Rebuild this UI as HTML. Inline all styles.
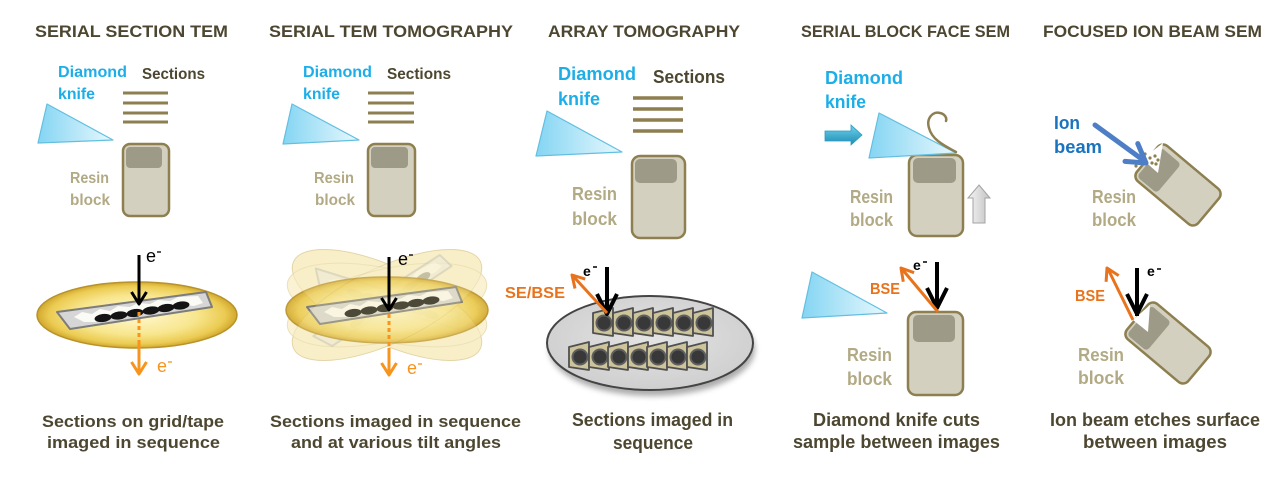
<!DOCTYPE html>
<html><head><meta charset="utf-8"><style>
html,body{margin:0;padding:0;background:#fff;}
svg{display:block;}
text{font-family:"Liberation Sans",Arial,sans-serif;font-weight:bold;}
.ti{font-size:17px;fill:#4d4731;}
.cap{font-size:17px;fill:#4d4731;}
.dk{font-size:16px;fill:#1daee8;}
.sec{font-size:16px;fill:#4d4731;}
.rb{font-size:16px;fill:#b2aa85;}
.or{font-size:16px;fill:#e8731c;}
</style></head><body>
<svg width="1280" height="482" viewBox="0 0 1280 482" xmlns="http://www.w3.org/2000/svg">
<defs>
<linearGradient id="kn" x1="0" y1="0" x2="1" y2="0"><stop offset="0" stop-color="#84d5f3"/><stop offset="1" stop-color="#e8f8fd"/></linearGradient>
<radialGradient id="gold" cx="50%" cy="50%" r="50%"><stop offset="0" stop-color="#fff8cf"/><stop offset="0.6" stop-color="#f8e68e"/><stop offset="0.88" stop-color="#ebcb52"/><stop offset="1" stop-color="#d2a82e"/></radialGradient>
<radialGradient id="grey" cx="50%" cy="45%" r="55%"><stop offset="0" stop-color="#e4e4e4"/><stop offset="1" stop-color="#cfcfcf"/></radialGradient>
<linearGradient id="teal" x1="0" y1="0" x2="0" y2="1"><stop offset="0" stop-color="#6fd2ee"/><stop offset="1" stop-color="#1d8cb2"/></linearGradient>
<linearGradient id="upg" x1="0" y1="0" x2="1" y2="0"><stop offset="0" stop-color="#f4f4f4"/><stop offset="1" stop-color="#c4c4c4"/></linearGradient>
<filter id="bl" x="-20%" y="-20%" width="140%" height="140%"><feGaussianBlur stdDeviation="3"/></filter>
<g id="slide">
<path d="M57,312 L206,292 L212,307 L70,329 Z" fill="#d6d6d6" stroke="#7c7c7c" stroke-width="2" stroke-linejoin="round"/>
<path d="M74,317 L82,312 L92,314 L100,309 L110,311 L118,306 L130,307 L138,303 L150,304 L158,300 L170,301 L178,297 L198,296 L203,303 L194,306 L184,305 L176,309 L164,308 L156,312 L144,311 L136,315 L124,314 L116,318 L104,317 L96,322 L84,322 Z" fill="#fbfbf5"/>
<g fill="#141414">
<ellipse cx="103" cy="318" rx="8.5" ry="4" transform="rotate(-8 103 318)"/>
<ellipse cx="119" cy="315.5" rx="8.5" ry="4" transform="rotate(-8 119 315.5)"/>
<ellipse cx="135" cy="313" rx="8.5" ry="4" transform="rotate(-8 135 313)"/>
<ellipse cx="151" cy="310.5" rx="8.5" ry="4" transform="rotate(-8 151 310.5)"/>
<ellipse cx="166" cy="308" rx="8.5" ry="4" transform="rotate(-8 166 308)"/>
<ellipse cx="181" cy="305.5" rx="8.5" ry="4" transform="rotate(-8 181 305.5)"/>
</g>
</g>
<g id="tz">
<polygon points="-11,-10 9,-15 9,13 -11,10" fill="#cdc49c" stroke="#505050" stroke-width="1.8" stroke-linejoin="round"/>
<circle cx="0" cy="0" r="7.5" fill="#383838" stroke="#5e5e5e" stroke-width="2"/>
</g>
</defs>

<!-- ===== Titles ===== -->
<text class="ti" x="35" y="37" textLength="193" lengthAdjust="spacingAndGlyphs">SERIAL SECTION TEM</text>
<text class="ti" x="269" y="37" textLength="244" lengthAdjust="spacingAndGlyphs">SERIAL TEM TOMOGRAPHY</text>
<text class="ti" x="548" y="37" textLength="192" lengthAdjust="spacingAndGlyphs">ARRAY TOMOGRAPHY</text>
<text class="ti" x="801" y="37" textLength="209" lengthAdjust="spacingAndGlyphs">SERIAL BLOCK FACE SEM</text>
<text class="ti" x="1043" y="37" textLength="219" lengthAdjust="spacingAndGlyphs">FOCUSED ION BEAM SEM</text>

<!-- ===== Panel 1 top ===== -->
<text class="dk" x="58" y="77" textLength="69" lengthAdjust="spacingAndGlyphs">Diamond</text>
<text class="dk" x="58" y="99" textLength="37" lengthAdjust="spacingAndGlyphs">knife</text>
<text class="sec" x="142" y="79" textLength="63" lengthAdjust="spacingAndGlyphs">Sections</text>
<g stroke="#8d7f4f" stroke-width="3"><line x1="123" y1="93" x2="168" y2="93"/><line x1="123" y1="103" x2="168" y2="103"/><line x1="123" y1="113" x2="168" y2="113"/><line x1="123" y1="122" x2="168" y2="122"/></g>
<polygon points="47,104 38,143 113,140" fill="url(#kn)" stroke="#63bfe0" stroke-width="1.2" stroke-linejoin="round"/>
<rect x="123" y="144" width="46" height="72" rx="7" fill="#d3d0bf" stroke="#8d7f4f" stroke-width="2.5"/>
<rect x="126" y="147" width="36" height="21" rx="4" fill="#9d9a87"/>
<text class="rb" x="70" y="183" textLength="39" lengthAdjust="spacingAndGlyphs">Resin</text>
<text class="rb" x="70" y="205" textLength="40" lengthAdjust="spacingAndGlyphs">block</text>

<!-- Panel 1 bottom -->
<ellipse cx="137" cy="315" rx="100" ry="33" fill="url(#gold)" stroke="#b8922a" stroke-width="1.5"/>
<use href="#slide"/>
<line x1="139" y1="255" x2="139" y2="303" stroke="#000" stroke-width="3"/>
<polyline points="131.5,292 139,304 146.5,292" fill="none" stroke="#000" stroke-width="3" stroke-linejoin="round"/>
<text x="146" y="262" style="font-weight:normal;font-size:18px;fill:#000">e</text>
<line x1="157" y1="252" x2="161" y2="252" stroke="#000" stroke-width="1.3"/>
<line x1="139" y1="312" x2="139" y2="343" stroke="#f7941d" stroke-width="3" stroke-dasharray="4 3"/>
<line x1="139" y1="343" x2="139" y2="373" stroke="#f7941d" stroke-width="3"/>
<polyline points="131.5,362 139,374 146.5,362" fill="none" stroke="#f7941d" stroke-width="3" stroke-linejoin="round"/>
<text x="157" y="372" style="font-weight:normal;font-size:18px;fill:#f7941d">e</text>
<line x1="168" y1="362" x2="172" y2="362" stroke="#f7941d" stroke-width="1.3"/>
<text class="cap" x="42" y="427" textLength="182" lengthAdjust="spacingAndGlyphs">Sections on grid/tape</text>
<text class="cap" x="47" y="448" textLength="173" lengthAdjust="spacingAndGlyphs">imaged in sequence</text>

<!-- ===== Panel 2 top ===== -->
<text class="dk" x="303" y="77" textLength="69" lengthAdjust="spacingAndGlyphs">Diamond</text>
<text class="dk" x="303" y="99" textLength="37" lengthAdjust="spacingAndGlyphs">knife</text>
<text class="sec" x="387" y="79" textLength="64" lengthAdjust="spacingAndGlyphs">Sections</text>
<g stroke="#8d7f4f" stroke-width="3"><line x1="368" y1="93" x2="414" y2="93"/><line x1="368" y1="103" x2="414" y2="103"/><line x1="368" y1="113" x2="414" y2="113"/><line x1="368" y1="122" x2="414" y2="122"/></g>
<polygon points="292,104 283,144 359,140" fill="url(#kn)" stroke="#63bfe0" stroke-width="1.2" stroke-linejoin="round"/>
<rect x="368" y="144" width="47" height="72" rx="7" fill="#d3d0bf" stroke="#8d7f4f" stroke-width="2.5"/>
<rect x="371" y="147" width="37" height="21" rx="4" fill="#9d9a87"/>
<text class="rb" x="314" y="183" textLength="40" lengthAdjust="spacingAndGlyphs">Resin</text>
<text class="rb" x="315" y="205" textLength="40" lengthAdjust="spacingAndGlyphs">block</text>

<!-- Panel 2 bottom -->
<g opacity="0.5">
<ellipse cx="387" cy="305" rx="103" ry="38" transform="rotate(25 387 305)" fill="#f6e7a8" stroke="#d8c27c" stroke-width="1"/>
<ellipse cx="387" cy="305" rx="103" ry="38" transform="rotate(-25 387 305)" fill="#f6e7a8" stroke="#d8c27c" stroke-width="1"/>
<ellipse cx="387" cy="305" rx="102" ry="36" transform="rotate(13 387 305)" fill="#f6e7a8" stroke="#d8c27c" stroke-width="1"/>
<ellipse cx="387" cy="305" rx="102" ry="36" transform="rotate(-13 387 305)" fill="#f6e7a8" stroke="#d8c27c" stroke-width="1"/>
<g transform="rotate(25 387 305) translate(250,-10)" opacity="0.6"><use href="#slide"/></g>
<g transform="rotate(-25 387 305) translate(250,-10)" opacity="0.6"><use href="#slide"/></g>
</g>
<ellipse cx="387" cy="310" rx="101" ry="33" fill="url(#gold)" stroke="#b8922a" stroke-width="1.5" opacity="0.92"/>
<g transform="translate(250,-5)"><use href="#slide"/></g>
<g opacity="0.25">
<ellipse cx="387" cy="305" rx="103" ry="38" transform="rotate(25 387 305)" fill="#f6e7a8" stroke="#d0b870"/>
<ellipse cx="387" cy="305" rx="103" ry="38" transform="rotate(-25 387 305)" fill="#f6e7a8" stroke="#d0b870"/>
</g>
<line x1="389" y1="257" x2="389" y2="309" stroke="#000" stroke-width="3"/>
<polyline points="381.5,298 389,310 396.5,298" fill="none" stroke="#000" stroke-width="3" stroke-linejoin="round"/>
<text x="398" y="265" style="font-weight:normal;font-size:18px;fill:#000">e</text>
<line x1="409" y1="255" x2="413" y2="255" stroke="#000" stroke-width="1.3"/>
<line x1="389" y1="314" x2="389" y2="348" stroke="#f7941d" stroke-width="3" stroke-dasharray="4 3"/>
<line x1="389" y1="348" x2="389" y2="374" stroke="#f7941d" stroke-width="3"/>
<polyline points="381.5,363 389,375 396.5,363" fill="none" stroke="#f7941d" stroke-width="3" stroke-linejoin="round"/>
<text x="407" y="374" style="font-weight:normal;font-size:18px;fill:#f7941d">e</text>
<line x1="418" y1="364" x2="422" y2="364" stroke="#f7941d" stroke-width="1.3"/>
<text class="cap" x="270" y="427" textLength="251" lengthAdjust="spacingAndGlyphs">Sections imaged in sequence</text>
<text class="cap" x="291" y="448" textLength="210" lengthAdjust="spacingAndGlyphs">and at various tilt angles</text>

<!-- ===== Panel 3 top ===== -->
<text class="dk" x="558" y="80" style="font-size:18px" textLength="78" lengthAdjust="spacingAndGlyphs">Diamond</text>
<text class="dk" x="558" y="105" style="font-size:18px" textLength="42" lengthAdjust="spacingAndGlyphs">knife</text>
<text class="sec" x="653" y="83" style="font-size:18px" textLength="72" lengthAdjust="spacingAndGlyphs">Sections</text>
<g stroke="#8d7f4f" stroke-width="3.5"><line x1="633" y1="98" x2="683" y2="98"/><line x1="633" y1="109" x2="683" y2="109"/><line x1="633" y1="120" x2="683" y2="120"/><line x1="633" y1="131" x2="683" y2="131"/></g>
<polygon points="547,111 536,156 622,152" fill="url(#kn)" stroke="#63bfe0" stroke-width="1.2" stroke-linejoin="round"/>
<rect x="632" y="156" width="53" height="82" rx="8" fill="#d3d0bf" stroke="#8d7f4f" stroke-width="2.5"/>
<rect x="635" y="159" width="42" height="24" rx="5" fill="#9d9a87"/>
<text class="rb" x="572" y="200" style="font-size:18px" textLength="45" lengthAdjust="spacingAndGlyphs">Resin</text>
<text class="rb" x="572" y="225" style="font-size:18px" textLength="45" lengthAdjust="spacingAndGlyphs">block</text>

<!-- Panel 3 bottom -->
<ellipse cx="652" cy="349" rx="103" ry="47" fill="#666" opacity="0.55" filter="url(#bl)"/>
<ellipse cx="650" cy="343" rx="103" ry="47" fill="url(#grey)" stroke="#444" stroke-width="2"/>
<use href="#tz" x="604" y="323"/><use href="#tz" x="624" y="323"/><use href="#tz" x="644" y="323"/><use href="#tz" x="664" y="323"/><use href="#tz" x="684" y="323"/><use href="#tz" x="704" y="323"/>
<use href="#tz" x="580" y="357"/><use href="#tz" x="600" y="357"/><use href="#tz" x="619" y="357"/><use href="#tz" x="639" y="357"/><use href="#tz" x="658" y="357"/><use href="#tz" x="678" y="357"/><use href="#tz" x="698" y="357"/>
<line x1="607" y1="267" x2="607" y2="313" stroke="#000" stroke-width="4"/>
<polyline points="597,294 607,314 617,294" fill="none" stroke="#000" stroke-width="4" stroke-linejoin="round"/>
<line x1="607" y1="313" x2="573" y2="276" stroke="#e8731c" stroke-width="3"/>
<polyline points="575,288.5 572,275 585.2,279.1" fill="none" stroke="#e8731c" stroke-width="3" stroke-linejoin="round"/>
<text x="583" y="276" style="font-size:14px;fill:#000">e</text>
<line x1="593" y1="267" x2="597" y2="267" stroke="#000" stroke-width="1.5"/>
<text class="or" x="505" y="298" textLength="60" lengthAdjust="spacingAndGlyphs">SE/BSE</text>
<text class="cap" x="572" y="426" style="font-size:18px" textLength="161" lengthAdjust="spacingAndGlyphs">Sections imaged in</text>
<text class="cap" x="613" y="449" style="font-size:18px" textLength="80" lengthAdjust="spacingAndGlyphs">sequence</text>

<!-- ===== Panel 4 top ===== -->
<text class="dk" x="825" y="84" style="font-size:18px" textLength="78" lengthAdjust="spacingAndGlyphs">Diamond</text>
<text class="dk" x="825" y="108" style="font-size:18px" textLength="41" lengthAdjust="spacingAndGlyphs">knife</text>
<path d="M825,131 L851,131 L851,125 L862,135 L851,145 L851,141 L825,141 Z" fill="url(#teal)" stroke="#2a9cc0" stroke-width="0.8"/>
<rect x="909" y="155" width="54" height="81" rx="8" fill="#d3d0bf" stroke="#8d7f4f" stroke-width="2.5"/>
<rect x="913" y="158" width="43" height="25" rx="5" fill="#9d9a87"/>
<polygon points="879,113 869,158 956,153" fill="url(#kn)" stroke="#63bfe0" stroke-width="1.2" stroke-linejoin="round"/>
<path d="M956,152 C945,146 932,140 929,128 C926,118 933,111 940,113 C945,114 947,118 946,121" fill="none" stroke="#8d7f4f" stroke-width="2.5" stroke-linecap="round"/>
<path d="M979,185 L990,198 L985,198 L985,223 L973,223 L973,198 L968,198 Z" fill="url(#upg)" stroke="#a3a3a3" stroke-width="1"/>
<text class="rb" x="850" y="203" style="font-size:18px" textLength="43" lengthAdjust="spacingAndGlyphs">Resin</text>
<text class="rb" x="850" y="226" style="font-size:18px" textLength="43" lengthAdjust="spacingAndGlyphs">block</text>

<!-- Panel 4 bottom -->
<polygon points="812,272 802,318 887,313" fill="url(#kn)" stroke="#63bfe0" stroke-width="1.2" stroke-linejoin="round"/>
<rect x="908" y="312" width="55" height="83" rx="8" fill="#d3d0bf" stroke="#8d7f4f" stroke-width="2.5"/>
<rect x="913" y="315" width="42" height="27" rx="5" fill="#9d9a87"/>
<line x1="937" y1="262" x2="937" y2="307" stroke="#000" stroke-width="4"/>
<polyline points="927,288 937,308 947,288" fill="none" stroke="#000" stroke-width="4" stroke-linejoin="round"/>
<line x1="938" y1="312" x2="902" y2="269" stroke="#e8731c" stroke-width="3"/>
<polyline points="903.3,281.7 901,268 914.1,272.7" fill="none" stroke="#e8731c" stroke-width="3" stroke-linejoin="round"/>
<text x="913" y="270" style="font-size:14px;fill:#000">e</text>
<line x1="923" y1="262" x2="927" y2="262" stroke="#000" stroke-width="1.5"/>
<text class="or" x="870" y="294" textLength="30" lengthAdjust="spacingAndGlyphs">BSE</text>
<text class="rb" x="847" y="361" style="font-size:18px" textLength="45" lengthAdjust="spacingAndGlyphs">Resin</text>
<text class="rb" x="847" y="385" style="font-size:18px" textLength="45" lengthAdjust="spacingAndGlyphs">block</text>
<text class="cap" x="813" y="426" style="font-size:18px" textLength="167" lengthAdjust="spacingAndGlyphs">Diamond knife cuts</text>
<text class="cap" x="793" y="448" style="font-size:18px" textLength="207" lengthAdjust="spacingAndGlyphs">sample between images</text>

<!-- ===== Panel 5 top ===== -->
<text x="1054" y="129" style="font-size:18px;fill:#1a73bf" textLength="26" lengthAdjust="spacingAndGlyphs">Ion</text>
<text x="1054" y="153" style="font-size:18px;fill:#1a73bf" textLength="48" lengthAdjust="spacingAndGlyphs">beam</text>
<g transform="translate(1178,185) rotate(-50)">
<rect x="-23" y="-40" width="46" height="80" rx="7" fill="#d3d0bf" stroke="#8d7f4f" stroke-width="2.5"/>
<rect x="-20" y="-37" width="38" height="26" rx="4" fill="#9d9a87"/>
</g>
<polygon points="1142,159 1163,143 1158,173" fill="#fff"/>
<g fill="#8d7f4f"><circle cx="1145" cy="154" r="1.6"/><circle cx="1150" cy="158" r="1.6"/><circle cx="1155" cy="156" r="1.6"/><circle cx="1158" cy="160" r="1.6"/><circle cx="1152" cy="163" r="1.6"/><circle cx="1156" cy="164" r="1.6"/><circle cx="1136" cy="166" r="1.6"/></g>
<line x1="1095" y1="125" x2="1143" y2="160" stroke="#4d7ec6" stroke-width="5" stroke-linecap="round"/>
<polyline points="1137.8,143.6 1146,163 1125,161.4" fill="none" stroke="#4d7ec6" stroke-width="5" stroke-linejoin="round" stroke-linecap="round"/>
<text class="rb" x="1092" y="203" style="font-size:18px" textLength="44" lengthAdjust="spacingAndGlyphs">Resin</text>
<text class="rb" x="1092" y="226" style="font-size:18px" textLength="44" lengthAdjust="spacingAndGlyphs">block</text>

<!-- Panel 5 bottom -->
<g transform="translate(1168,343) rotate(-50)">
<rect x="-23" y="-40" width="46" height="80" rx="7" fill="#d3d0bf" stroke="#8d7f4f" stroke-width="2.5"/>
<rect x="-20" y="-37" width="38" height="26" rx="4" fill="#9d9a87"/>
</g>
<polygon points="1133,320 1150,305 1148,332" fill="#fff"/>
<line x1="1137" y1="268" x2="1137" y2="316" stroke="#000" stroke-width="4"/>
<polyline points="1127,294 1137,314 1147,294" fill="none" stroke="#000" stroke-width="4" stroke-linejoin="round"/>
<line x1="1133" y1="320" x2="1108" y2="269" stroke="#e8731c" stroke-width="3"/>
<polyline points="1106.1,281.8 1107,268 1118.7,275.6" fill="none" stroke="#e8731c" stroke-width="3" stroke-linejoin="round"/>
<text x="1147" y="276" style="font-size:14px;fill:#000">e</text>
<line x1="1157" y1="269" x2="1161" y2="269" stroke="#000" stroke-width="1.5"/>
<text class="or" x="1075" y="301" textLength="30" lengthAdjust="spacingAndGlyphs">BSE</text>
<text class="rb" x="1078" y="361" style="font-size:18px" textLength="46" lengthAdjust="spacingAndGlyphs">Resin</text>
<text class="rb" x="1078" y="384" style="font-size:18px" textLength="46" lengthAdjust="spacingAndGlyphs">block</text>
<text class="cap" x="1050" y="426" style="font-size:18px" textLength="210" lengthAdjust="spacingAndGlyphs">Ion beam etches surface</text>
<text class="cap" x="1083" y="448" style="font-size:18px" textLength="144" lengthAdjust="spacingAndGlyphs">between images</text>
</svg>
</body></html>
